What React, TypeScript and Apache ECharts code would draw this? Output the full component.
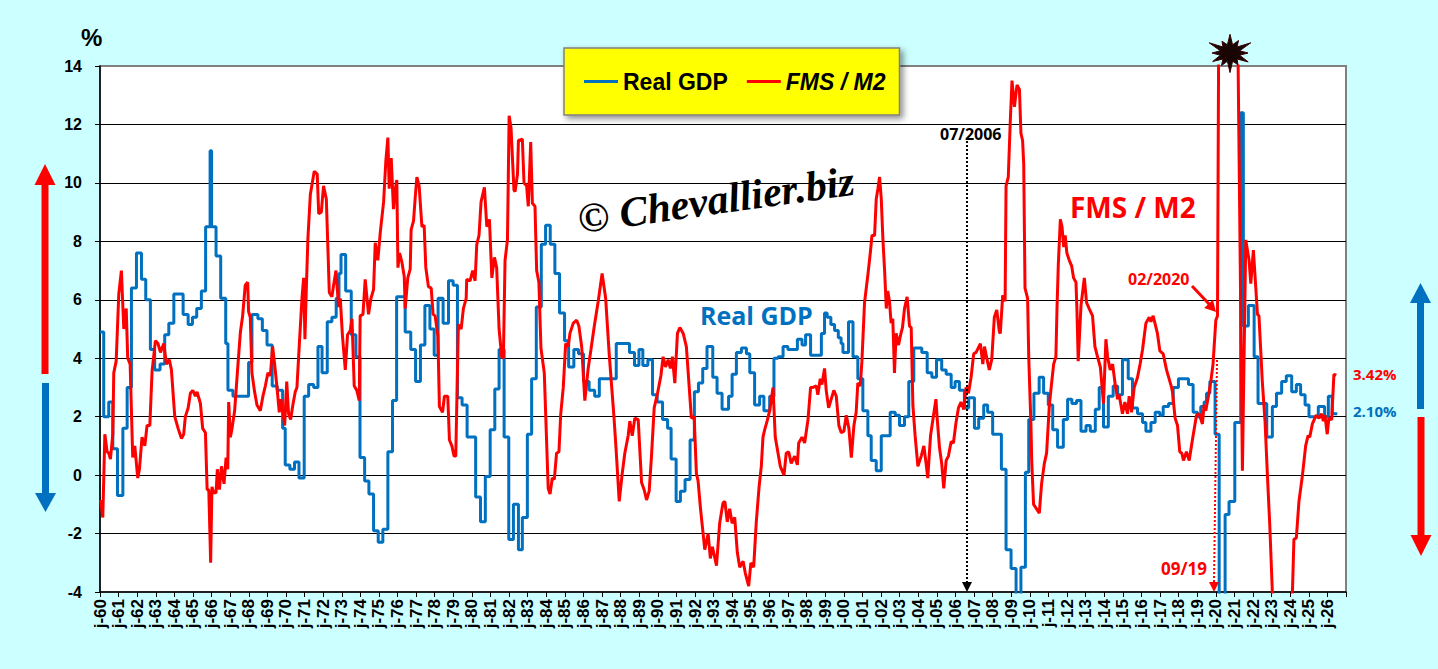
import { useEffect, useRef } from 'react';
import * as echarts from 'echarts';

type Pt = [number, number];

// Real GDP y/y % (quarterly plateaus: [start year, value])
const gdp1960s: Pt[] = [
  [1960.0, 4.9], [1960.2, 2.0], [1960.47, 2.5], [1960.69, 0.9], [1960.94, -0.7], [1961.23, 1.6],
  [1961.46, 3.0], [1961.69, 6.4], [1961.96, 7.6], [1962.23, 6.7], [1962.46, 6.0], [1962.71, 4.3],
  [1962.94, 3.6], [1963.23, 3.8], [1963.48, 4.8], [1963.7, 5.2], [1963.97, 6.2], [1964.47, 5.5],
  [1964.74, 5.15], [1964.97, 5.4], [1965.2, 5.7], [1965.45, 6.3], [1965.68, 8.5], [1965.92, 11.1],
  [1966.0, 8.5], [1966.24, 7.5], [1966.49, 6.05], [1966.76, 4.5], [1966.88, 2.9], [1967.15, 2.7],
  [1967.99, 3.85], [1968.17, 5.5], [1968.49, 5.35], [1968.73, 4.95], [1968.98, 4.45], [1969.26, 3.05],
  [1969.53, 2.9], [1969.82, 1.6], [1969.96, 0.35],
];
const gdp1970s: Pt[] = [
  [1970.21, 0.2], [1970.46, 0.45], [1970.7, -0.1], [1970.98, 2.7], [1971.22, 3.1], [1971.49, 3.0],
  [1971.72, 4.4], [1971.94, 3.5], [1972.22, 5.25], [1972.47, 5.4], [1972.7, 6.05], [1972.85, 6.9],
  [1972.96, 7.55], [1973.21, 6.3], [1973.51, 4.8], [1973.76, 4.05], [1973.98, 0.6], [1974.23, -0.2],
  [1974.46, -0.65], [1974.71, -1.9], [1974.96, -2.3], [1975.21, -1.85], [1975.48, 0.8], [1975.73, 2.55],
  [1975.95, 6.1], [1976.41, 4.9], [1976.71, 4.3], [1976.97, 3.2], [1977.23, 4.45], [1977.47, 5.8],
  [1977.74, 5.0], [1977.97, 4.1], [1978.18, 6.05], [1978.45, 5.2], [1978.74, 6.65], [1978.99, 6.5],
  [1979.22, 2.65], [1979.47, 2.4], [1979.74, 1.3],
];
const gdp1980s: Pt[] = [
  [1980.2, -0.75], [1980.46, -1.6], [1980.72, -0.05], [1980.98, 1.55], [1981.23, 2.95], [1981.46, 4.3],
  [1981.73, 1.3], [1981.98, -2.2], [1982.23, -1.0], [1982.5, -2.55], [1982.71, -1.45], [1982.98, 1.4],
  [1983.21, 3.3], [1983.46, 5.75], [1983.73, 7.9], [1983.96, 8.55], [1984.21, 7.9], [1984.46, 6.9],
  [1984.71, 5.55], [1984.98, 4.6], [1985.2, 3.7], [1985.48, 4.3], [1985.73, 4.15], [1986.0, 3.2],
  [1986.3, 2.9], [1986.6, 2.7], [1986.85, 3.3], [1987.76, 4.5], [1988.47, 4.2], [1988.74, 3.75],
  [1988.98, 4.3], [1989.19, 3.75], [1989.46, 3.95], [1989.71, 2.75], [1989.96, 2.5],
];
const gdp1990s: Pt[] = [
  [1990.25, 1.9], [1990.52, 1.6], [1990.71, 0.55], [1990.98, -0.9], [1991.21, -0.55], [1991.46, -0.15],
  [1991.73, 1.2], [1991.96, 2.85], [1992.18, 3.15], [1992.41, 3.65], [1992.64, 4.4], [1992.95, 3.35],
  [1993.18, 2.8], [1993.45, 2.25], [1993.8, 2.7], [1993.99, 3.45], [1994.22, 4.2], [1994.49, 4.35],
  [1994.76, 4.15], [1994.94, 3.5], [1995.2, 2.4], [1995.47, 2.7], [1995.7, 2.2], [1996.01, 2.7],
  [1996.24, 4.0], [1996.46, 4.05], [1996.73, 4.4], [1996.99, 4.3], [1997.5, 4.65], [1997.75, 4.45],
  [1997.94, 4.8], [1998.21, 4.1], [1998.79, 4.85], [1998.96, 5.55], [1999.1, 5.4], [1999.3, 5.15],
  [1999.5, 4.95], [1999.7, 4.7], [1999.85, 4.5], [1999.95, 4.2],
];
const gdp2000s: Pt[] = [
  [2000.25, 5.25], [2000.49, 4.05], [2000.75, 3.3], [2001.02, 2.2], [2001.29, 1.35], [2001.47, 0.5],
  [2001.74, 0.15], [2002.01, 1.35], [2002.49, 2.15], [2002.76, 2.05], [2002.99, 1.7], [2003.26, 2.0],
  [2003.49, 3.2], [2003.76, 4.35], [2004.19, 4.2], [2004.48, 3.5], [2004.73, 3.35], [2004.98, 3.95],
  [2005.26, 3.6], [2005.5, 3.45], [2005.77, 3.0], [2005.98, 3.2], [2006.21, 2.9], [2006.48, 2.3],
  [2006.71, 2.65], [2007.02, 1.6], [2007.25, 1.95], [2007.52, 2.4], [2007.73, 2.15], [2008.0, 1.4],
  [2008.47, 0.2], [2008.72, -2.55], [2008.99, -3.2], [2009.26, -4.2], [2009.52, -3.15], [2009.76, 0.1],
  [2009.94, 1.9],
];
const gdp2010s: Pt[] = [
  [2010.22, 2.8], [2010.5, 3.35], [2010.74, 2.8], [2010.99, 2.4], [2011.23, 1.55], [2011.49, 0.95],
  [2011.8, 1.9], [2012.03, 2.6], [2012.26, 2.45], [2012.51, 2.55], [2012.75, 1.5], [2013.02, 1.7],
  [2013.25, 1.5], [2013.52, 2.25], [2013.73, 3.0], [2013.96, 1.65], [2014.22, 2.7], [2014.48, 3.05],
  [2014.72, 2.75], [2014.98, 3.95], [2015.29, 3.3], [2015.52, 2.3], [2015.79, 2.1], [2016.06, 1.8],
  [2016.24, 1.5], [2016.51, 1.8], [2016.74, 2.15], [2016.99, 2.05], [2017.17, 2.35], [2017.46, 2.45],
  [2017.71, 3.0], [2017.99, 3.3], [2018.53, 3.1], [2018.78, 2.15], [2019.01, 2.0], [2019.19, 2.35],
  [2019.37, 2.5], [2019.5, 2.8], [2019.68, 3.2], [2019.96, 1.4],
];
const gdp2020s: Pt[] = [
  [2020.18, -9.0], [2020.5, -1.35], [2020.71, -0.9], [2021.02, 1.8], [2021.34, 12.4], [2021.48, 5.1],
  [2021.75, 5.8], [2022.06, 4.05], [2022.27, 2.45], [2022.74, 1.3], [2023.04, 2.35], [2023.26, 2.8],
  [2023.54, 3.2], [2023.79, 3.4], [2024.08, 2.85], [2024.33, 3.1], [2024.56, 2.75], [2024.8, 2.4],
  [2025.01, 2.0], [2025.51, 2.35], [2025.85, 2.0], [2026.05, 2.7], [2026.26, 2.1], [2026.53, 2.1],
];

// FMS / M2 y/y %
const fms1960s: Pt[] = [
  [1960.03, -0.85], [1960.15, -1.45], [1960.26, 1.4], [1960.38, 0.8], [1960.47, 0.75], [1960.56, 0.55],
  [1960.69, 1.4], [1960.74, 3.5], [1960.87, 3.9], [1961.01, 6.2], [1961.15, 7.0], [1961.28, 5.0],
  [1961.41, 5.7], [1961.49, 4.0], [1961.62, 3.8], [1961.76, 0.6], [1961.87, 1.0], [1962.03, -0.1],
  [1962.12, 0.2], [1962.26, 1.3], [1962.41, 1.0], [1962.53, 1.7], [1962.68, 1.7], [1962.8, 3.55],
  [1962.98, 4.6], [1963.12, 4.5], [1963.25, 4.2], [1963.43, 4.5], [1963.57, 3.8], [1963.73, 3.95],
  [1963.84, 3.6], [1964.02, 2.0], [1964.2, 1.6], [1964.38, 1.25], [1964.5, 1.4], [1964.59, 2.0],
  [1964.74, 2.3], [1964.86, 2.8], [1964.99, 2.9], [1965.13, 2.7], [1965.22, 2.85], [1965.4, 2.45],
  [1965.52, 1.6], [1965.67, 1.45], [1965.76, -0.5], [1965.85, -0.5], [1965.95, -3.0], [1966.02, -0.4],
  [1966.11, -0.6], [1966.24, -0.6], [1966.31, 0.2], [1966.42, -0.5], [1966.53, 0.3], [1966.67, -0.3],
  [1966.78, 0.6], [1966.87, 0.2], [1966.92, 2.5], [1967.01, 1.3], [1967.1, 1.6], [1967.24, 2.2],
  [1967.42, 3.8], [1967.55, 4.9], [1967.67, 5.45], [1967.81, 6.5], [1967.94, 6.6], [1967.99, 5.6],
  [1968.08, 5.4], [1968.17, 3.5], [1968.3, 2.9], [1968.44, 2.4], [1968.62, 2.2], [1968.76, 2.7],
  [1968.89, 3.05], [1969.03, 3.5], [1969.16, 3.4], [1969.28, 4.4], [1969.39, 3.8], [1969.51, 3.05],
  [1969.64, 2.15], [1969.73, 2.6], [1969.82, 2.2], [1969.93, 1.7],
];
const fms1970s: Pt[] = [
  [1970.04, 3.2], [1970.14, 2.1], [1970.25, 1.9], [1970.37, 2.4], [1970.5, 2.85], [1970.59, 3.0],
  [1970.72, 4.5], [1970.86, 6.05], [1970.95, 6.75], [1971.02, 4.65], [1971.1, 6.5], [1971.18, 8.1],
  [1971.31, 9.6], [1971.52, 10.4], [1971.68, 10.3], [1971.76, 8.95], [1971.9, 9.0], [1972.02, 9.9],
  [1972.17, 9.45], [1972.33, 6.25], [1972.47, 6.1], [1972.56, 6.5], [1972.69, 7.0], [1972.83, 5.75],
  [1972.92, 6.05], [1973.04, 4.75], [1973.19, 3.6], [1973.31, 4.8], [1973.46, 4.95], [1973.55, 5.35],
  [1973.67, 3.05], [1973.81, 2.9], [1973.94, 2.55], [1973.99, 5.45], [1974.14, 5.5], [1974.26, 6.7],
  [1974.44, 5.5], [1974.57, 6.05], [1974.71, 6.35], [1974.8, 7.95], [1974.94, 7.35], [1975.07, 8.3],
  [1975.25, 9.35], [1975.37, 10.75], [1975.48, 11.55], [1975.55, 9.8], [1975.66, 10.85], [1975.78, 9.1],
  [1975.87, 9.75], [1975.96, 10.1], [1976.02, 7.1], [1976.11, 7.6], [1976.23, 7.3], [1976.36, 6.8],
  [1976.41, 5.7], [1976.55, 6.75], [1976.68, 7.05], [1976.73, 8.4], [1976.86, 8.7], [1976.95, 9.5],
  [1977.04, 10.2], [1977.16, 9.9], [1977.31, 8.5], [1977.43, 8.55], [1977.52, 7.1], [1977.66, 6.45],
  [1977.81, 6.4], [1977.91, 5.5], [1978.02, 5.45], [1978.17, 4.75], [1978.25, 2.35], [1978.42, 2.15],
  [1978.52, 2.7], [1978.7, 2.7], [1978.79, 1.2], [1978.92, 1.0], [1979.04, 0.65], [1979.13, 0.65],
  [1979.27, 5.15], [1979.42, 5.0], [1979.54, 5.7], [1979.69, 6.05], [1979.72, 6.7], [1979.9, 6.65],
];
const fms1980s: Pt[] = [
  [1980.04, 7.0], [1980.17, 6.65], [1980.26, 7.9], [1980.38, 8.2], [1980.49, 9.35], [1980.67, 9.85],
  [1980.8, 8.5], [1980.94, 8.75], [1981.07, 6.75], [1981.21, 7.45], [1981.33, 7.1], [1981.46, 5.0],
  [1981.6, 4.05], [1981.69, 4.0], [1981.78, 7.35], [1981.91, 8.05], [1982.0, 12.3], [1982.1, 11.9],
  [1982.26, 9.75], [1982.32, 9.7], [1982.45, 10.3], [1982.5, 11.45], [1982.71, 11.5], [1982.8, 10.0],
  [1982.94, 9.9], [1983.03, 9.2], [1983.16, 11.4], [1983.25, 9.3], [1983.39, 9.2], [1983.48, 7.0],
  [1983.6, 6.6], [1983.71, 4.35], [1983.89, 3.5], [1984.1, -0.45], [1984.2, -0.65], [1984.32, -0.1],
  [1984.43, -0.15], [1984.55, 0.75], [1984.68, 0.8], [1984.77, 2.05], [1984.91, 3.0], [1985.04, 4.5],
  [1985.18, 4.4], [1985.27, 4.85], [1985.45, 5.2], [1985.63, 5.3], [1985.75, 5.1], [1985.9, 4.4],
  [1986.07, 2.55], [1986.25, 3.65], [1986.4, 4.3], [1986.58, 5.1], [1986.79, 5.95], [1987.0, 6.9],
  [1987.19, 6.05], [1987.38, 4.15], [1987.63, 2.05], [1987.74, 1.0], [1987.92, -0.9], [1988.08, 0.05],
  [1988.22, 0.75], [1988.4, 1.35], [1988.49, 1.85], [1988.62, 1.35], [1988.76, 1.95], [1988.94, 1.9],
  [1989.12, -0.25], [1989.26, -0.5], [1989.39, -0.85], [1989.53, -0.55], [1989.65, 0.6], [1989.8, 2.3],
  [1989.98, 2.8],
];
const fms1990s: Pt[] = [
  [1990.16, 3.4], [1990.28, 4.05], [1990.41, 3.7], [1990.55, 3.95], [1990.67, 3.65], [1990.78, 4.05],
  [1990.91, 3.15], [1991.05, 4.85], [1991.18, 5.05], [1991.36, 4.85], [1991.53, 4.4], [1991.8, 1.95],
  [1991.95, 2.0], [1992.07, 0.05], [1992.16, -0.2], [1992.29, -1.15], [1992.52, -2.55], [1992.7, -2.0],
  [1992.82, -2.85], [1992.93, -2.45], [1993.15, -3.1], [1993.32, -1.65], [1993.5, -0.95], [1993.6, -0.9],
  [1993.73, -1.6], [1993.86, -1.15], [1993.99, -1.65], [1994.13, -1.45], [1994.27, -2.65], [1994.4, -3.15],
  [1994.58, -2.95], [1994.7, -3.35], [1994.88, -3.8], [1995.0, -3.0], [1995.15, -3.15], [1995.29, -1.6],
  [1995.44, -0.4], [1995.56, 0.3], [1995.65, 1.3], [1995.74, 1.55], [1995.87, 1.85], [1996.01, 2.2],
  [1996.19, 3.0], [1996.31, 1.3], [1996.46, 0.75], [1996.58, 0.3], [1996.78, 0.0], [1996.9, 0.75],
  [1997.03, 0.8], [1997.17, 0.4], [1997.35, 0.65], [1997.5, 0.35], [1997.57, 1.1], [1997.75, 1.3],
  [1997.89, 1.1], [1998.07, 1.9], [1998.21, 3.0], [1998.34, 3.0], [1998.52, 3.05], [1998.6, 2.75],
  [1998.73, 3.3], [1998.82, 3.1], [1998.96, 3.65], [1999.05, 2.9], [1999.18, 2.3], [1999.32, 2.6],
  [1999.46, 2.9], [1999.59, 2.7], [1999.73, 1.7], [1999.86, 1.45],
];
const fms2000s: Pt[] = [
  [2000.0, 1.5], [2000.13, 2.05], [2000.27, 1.6], [2000.4, 0.6], [2000.54, 1.7], [2000.66, 2.15],
  [2000.75, 3.15], [2000.88, 3.05], [2000.97, 3.9], [2001.11, 5.9], [2001.29, 6.85], [2001.42, 7.6],
  [2001.51, 8.2], [2001.65, 8.2], [2001.74, 9.45], [2001.83, 9.8], [2001.92, 10.2], [2002.01, 9.45],
  [2002.1, 8.05], [2002.19, 7.0], [2002.28, 5.7], [2002.36, 6.3], [2002.45, 5.95], [2002.54, 5.2],
  [2002.63, 5.35], [2002.72, 3.5], [2002.81, 4.85], [2002.94, 4.45], [2003.05, 4.8], [2003.15, 5.05],
  [2003.26, 5.7], [2003.4, 6.1], [2003.53, 5.1], [2003.62, 5.05], [2003.71, 2.4], [2003.83, 1.35],
  [2003.98, 0.3], [2004.16, 0.65], [2004.3, 1.0], [2004.42, 0.4], [2004.51, -0.1], [2004.66, 1.35],
  [2004.82, 2.05], [2004.95, 2.6], [2005.01, 2.0], [2005.14, 0.95], [2005.26, 0.4], [2005.37, -0.45],
  [2005.5, 0.5], [2005.62, 0.65], [2005.77, 1.15], [2005.89, 1.1], [2006.03, 1.8], [2006.16, 2.3],
  [2006.3, 2.5], [2006.45, 2.25], [2006.57, 3.0], [2006.7, 2.8], [2006.84, 3.35], [2006.98, 4.15],
  [2007.11, 4.2], [2007.34, 4.5], [2007.47, 3.8], [2007.56, 4.4], [2007.7, 3.95], [2007.82, 3.6],
  [2007.95, 3.95], [2008.09, 5.4], [2008.22, 5.65], [2008.36, 4.9], [2008.41, 4.85], [2008.54, 6.15],
  [2008.67, 5.95], [2008.72, 9.9], [2008.84, 10.2], [2008.95, 12.15], [2009.04, 13.5], [2009.17, 12.6],
  [2009.31, 13.35], [2009.44, 13.2], [2009.52, 11.7], [2009.61, 11.45], [2009.67, 10.65], [2009.74, 6.4],
  [2009.88, 6.05], [2009.94, 4.05],
];
const fms2010s: Pt[] = [
  [2010.06, 1.7], [2010.1, 0.5], [2010.2, -1.0], [2010.51, -1.3], [2010.63, -0.3], [2010.78, 0.4],
  [2010.9, 0.75], [2011.05, 2.4], [2011.17, 3.15], [2011.28, 3.8], [2011.4, 4.05], [2011.46, 5.7],
  [2011.53, 7.2], [2011.64, 8.75], [2011.73, 8.5], [2011.82, 7.8], [2011.9, 8.2], [2011.99, 7.6],
  [2012.12, 7.35], [2012.25, 7.15], [2012.35, 6.75], [2012.48, 6.6], [2012.53, 5.7], [2012.6, 3.9],
  [2012.75, 5.8], [2012.93, 6.75], [2013.05, 5.9], [2013.19, 5.7], [2013.37, 5.45], [2013.5, 4.4],
  [2013.64, 4.05], [2013.79, 3.7], [2013.96, 2.45], [2014.09, 4.65], [2014.18, 4.05], [2014.32, 3.6],
  [2014.45, 3.8], [2014.59, 3.1], [2014.72, 2.6], [2014.8, 2.75], [2014.98, 2.1], [2015.11, 2.5],
  [2015.25, 2.1], [2015.34, 2.7], [2015.47, 2.15], [2015.61, 3.0], [2015.79, 3.35], [2015.93, 3.8],
  [2016.06, 4.3], [2016.15, 4.75], [2016.24, 5.2], [2016.42, 5.4], [2016.51, 5.25], [2016.63, 5.45],
  [2016.86, 4.85], [2016.99, 4.25], [2017.17, 4.15], [2017.35, 3.6], [2017.62, 3.0], [2017.67, 2.85],
  [2017.81, 1.95], [2017.94, 1.7], [2018.06, 0.8], [2018.17, 0.75], [2018.26, 0.5], [2018.42, 0.8],
  [2018.57, 0.5], [2018.74, 1.2], [2018.96, 2.05], [2019.1, 2.1], [2019.28, 1.75], [2019.37, 2.4],
  [2019.46, 2.2], [2019.6, 2.7], [2019.73, 3.2], [2019.85, 3.8],
];
const fms2020s: Pt[] = [
  [2020.0, 5.3], [2020.09, 5.45], [2020.2, 22.0], [2020.5, 26.0], [2020.9, 25.0], [2021.1, 20.0],
  [2021.43, 0.15], [2021.61, 8.05], [2021.79, 7.35], [2021.88, 6.55], [2022.02, 7.7], [2022.24, 5.5],
  [2022.32, 5.45], [2022.5, 3.2], [2022.65, 1.8], [2022.77, 0.05], [2022.9, -1.7], [2023.04, -4.0],
  [2023.4, -7.0], [2023.8, -6.5], [2024.12, -4.0], [2024.2, -2.2], [2024.33, -2.15], [2024.47, -0.9],
  [2024.65, -0.05], [2024.83, 1.0], [2024.96, 1.35], [2025.05, 1.3], [2025.19, 1.75], [2025.4, 2.05],
  [2025.55, 1.95], [2025.69, 2.1], [2025.78, 1.85], [2025.87, 2.05], [2025.99, 1.4], [2026.08, 1.95],
  [2026.23, 1.9], [2026.35, 3.45], [2026.48, 3.42],
];

const gdpData: Pt[] = [...gdp1960s, ...gdp1970s, ...gdp1980s, ...gdp1990s, ...gdp2000s, ...gdp2010s, ...gdp2020s];
const fmsData: Pt[] = [...fms1960s, ...fms1970s, ...fms1980s, ...fms1990s, ...fms2000s, ...fms2010s, ...fms2020s];

const FIRST_YEAR = 1960;
const LAST_YEAR = 2027;
const Y_MIN = -4;
const Y_MAX = 14;
const Y_STEP = 2;

const BLUE = '#0070C0';
const RED = '#FF0000';
const SANS = '"Liberation Sans", Arial, sans-serif';
const NOTE = '"Open Sans", "Liberation Sans", sans-serif';

function yearLabel(v: number) {
  if (v >= LAST_YEAR || Math.abs(v - Math.round(v)) > 1e-6) return '';
  return 'j-' + String(Math.round(v) % 100).padStart(2, '0');
}

function vArrow(x: number, shaftFrom: number, headBase: number, tip: number, color: string) {
  const top = Math.min(shaftFrom, headBase);
  const h = Math.abs(headBase - shaftFrom);
  return [
    { type: 'rect', z: 100, shape: { x: x - 3.5, y: top, width: 7, height: h }, style: { fill: color } },
    {
      type: 'polygon',
      z: 100,
      shape: { points: [[x - 10.5, headBase], [x + 10.5, headBase], [x, tip]] },
      style: { fill: color },
    },
  ];
}

function headAt(x1: number, y1: number, x2: number, y2: number, len: number, half: number) {
  const dx = x2 - x1;
  const dy = y2 - y1;
  const d = Math.sqrt(dx * dx + dy * dy);
  const ux = dx / d;
  const uy = dy / d;
  const bx = x2 - ux * len;
  const by = y2 - uy * len;
  return [[bx - uy * half, by + ux * half], [bx + uy * half, by - ux * half], [x2, y2]];
}

function starPoints(cx: number, cy: number, radii: number[], inner: number) {
  const pts: number[][] = [];
  const n = radii.length;
  for (let i = 0; i < n; i++) {
    const a = -Math.PI / 2 + (i * 2 * Math.PI) / n;
    const b = a + Math.PI / n;
    pts.push([cx + radii[i] * Math.cos(a), cy + radii[i] * 0.85 * Math.sin(a)]);
    pts.push([cx + inner * Math.cos(b), cy + inner * 0.85 * Math.sin(b)]);
  }
  return pts;
}

function note(x: number, y: number, text: string, size: number, color: string) {
  return {
    type: 'text',
    z: 100,
    x,
    y,
    style: {
      text,
      font: `bold ${size}px ${NOTE}`,
      fill: color,
      textVerticalAlign: 'middle',
      verticalAlign: 'middle',
    },
  };
}

export default function App() {
  const chartRef = useRef<HTMLDivElement>(null);

  useEffect(() => {
    if (!chartRef.current) return;
    const chart = echarts.init(chartRef.current, undefined, { renderer: 'svg' });

    const graphics: any[] = [
      {
        type: 'text',
        x: 81,
        y: 37,
        style: { text: '%', font: `bold 24px ${SANS}`, fill: '#000', textVerticalAlign: 'middle', verticalAlign: 'middle' },
      },
      {
        type: 'text',
        z: 90,
        x: 716,
        y: 200,
        rotation: 0.14,
        style: {
          text: '© Chevallier.biz',
          font: 'italic bold 42px "Liberation Serif", "DejaVu Serif", serif',
          fill: '#000',
          textAlign: 'center',
          align: 'center',
          textVerticalAlign: 'middle',
          verticalAlign: 'middle',
        },
      },
      note(700, 315, 'Real GDP', 25, BLUE),
      note(1070, 207, 'FMS / M2', 28, RED),
      note(940, 134, '07/2006', 16, '#000'),
      note(1128, 279, '02/2020', 16, RED),
      note(1161, 568, '09/19', 17, RED),
      note(1353, 374, '3.42%', 15, RED),
      note(1353, 411, '2.10%', 15, BLUE),
      // 07/2006 marker
      {
        type: 'line',
        z: 100,
        shape: { x1: 967, y1: 141, x2: 967, y2: 583 },
        style: { stroke: '#000', lineWidth: 2, lineDash: [2, 2] },
      },
      { type: 'polygon', z: 100, shape: { points: [[962, 582], [972, 582], [967, 592]] }, style: { fill: '#000' } },
      // 09/19 marker
      {
        type: 'line',
        z: 100,
        shape: { x1: 1217, y1: 360, x2: 1214, y2: 583 },
        style: { stroke: RED, lineWidth: 2, lineDash: [2, 2] },
      },
      { type: 'polygon', z: 100, shape: { points: [[1209, 582], [1219, 582], [1214, 592]] }, style: { fill: RED } },
      // 02/2020 arrow
      {
        type: 'line',
        z: 100,
        shape: { x1: 1192, y1: 286, x2: 1210, y2: 305 },
        style: { stroke: RED, lineWidth: 3 },
      },
      { type: 'polygon', z: 100, shape: { points: headAt(1192, 286, 1216, 312, 11, 6) }, style: { fill: RED } },
      // side arrows
      ...vArrow(45, 374, 185, 164, RED),
      ...vArrow(45.5, 383, 493, 512, BLUE),
      ...vArrow(1420.5, 409, 303, 283, BLUE),
      ...vArrow(1421, 417, 535, 556, RED),
      {
        type: 'polygon',
        z: 110,
        shape: { points: starPoints(1230, 53, [22, 17, 24, 18, 21, 16, 23, 17, 20, 18, 24, 16], 10) },
        style: { fill: '#1A0505', stroke: '#3A0000', lineWidth: 1 },
      },
    ];

    chart.setOption({
      animation: false,
      backgroundColor: '#CCFFFF',
      grid: {
        left: 100,
        right: 92,
        top: 66,
        bottom: 77,
        show: true,
        backgroundColor: '#FFFFFF',
        borderColor: '#808080',
        borderWidth: 2,
      },
      legend: {
        left: 564,
        top: 48,
        orient: 'horizontal',
        backgroundColor: '#FFFF00',
        borderColor: '#808080',
        borderWidth: 1.5,
        padding: [22, 14, 22, 20],
        itemGap: 19,
        itemWidth: 34,
        itemHeight: 3,
        icon: 'rect',
        shadowBlur: 6,
        shadowColor: 'rgba(0,0,0,0.45)',
        shadowOffsetX: 3,
        shadowOffsetY: 3,
        textStyle: { fontFamily: SANS, fontWeight: 'bold', fontSize: 23, color: '#000' },
        data: [
          { name: 'Real GDP' },
          { name: 'FMS / M2', textStyle: { fontStyle: 'italic', fontWeight: 'bold', fontSize: 23, fontFamily: SANS } },
        ],
      },
      xAxis: {
        type: 'value',
        min: FIRST_YEAR,
        max: LAST_YEAR,
        interval: 1,
        axisLine: { show: true, onZero: false, lineStyle: { color: '#000', width: 1.5 } },
        axisTick: { show: true, length: 5, lineStyle: { color: '#000', width: 1 } },
        splitLine: { show: false },
        axisLabel: {
          rotate: 90,
          margin: 7,
          color: '#000',
          fontFamily: SANS,
          fontWeight: 'bold',
          fontSize: 17,
          formatter: (v: number) => yearLabel(v),
        },
      },
      yAxis: {
        type: 'value',
        min: Y_MIN,
        max: Y_MAX,
        interval: Y_STEP,
        axisLine: { show: true, lineStyle: { color: '#000', width: 1.5 } },
        axisTick: { show: true, length: 5, lineStyle: { color: '#000', width: 1 } },
        splitLine: { show: true, showMinLine: false, showMaxLine: false, lineStyle: { color: '#000', width: 1 } },
        axisLabel: { margin: 18, color: '#000', fontFamily: SANS, fontWeight: 'bold', fontSize: 16 },
      },
      graphic: graphics,
      series: [
        {
          name: 'Real GDP',
          type: 'line',
          step: 'end',
          data: gdpData,
          showSymbol: false,
          symbol: 'none',
          clip: true,
          lineStyle: { color: BLUE, width: 3 },
          itemStyle: { color: BLUE },
        },
        {
          name: 'FMS / M2',
          type: 'line',
          data: fmsData,
          showSymbol: false,
          symbol: 'none',
          clip: true,
          lineStyle: { color: RED, width: 3 },
          itemStyle: { color: RED },
        },
      ],
    });

    return () => {
      chart.dispose();
    };
  }, []);

  return <div ref={chartRef} style={{ position: 'absolute', left: 0, top: 0, width: 1438, height: 669 }} />;
}
